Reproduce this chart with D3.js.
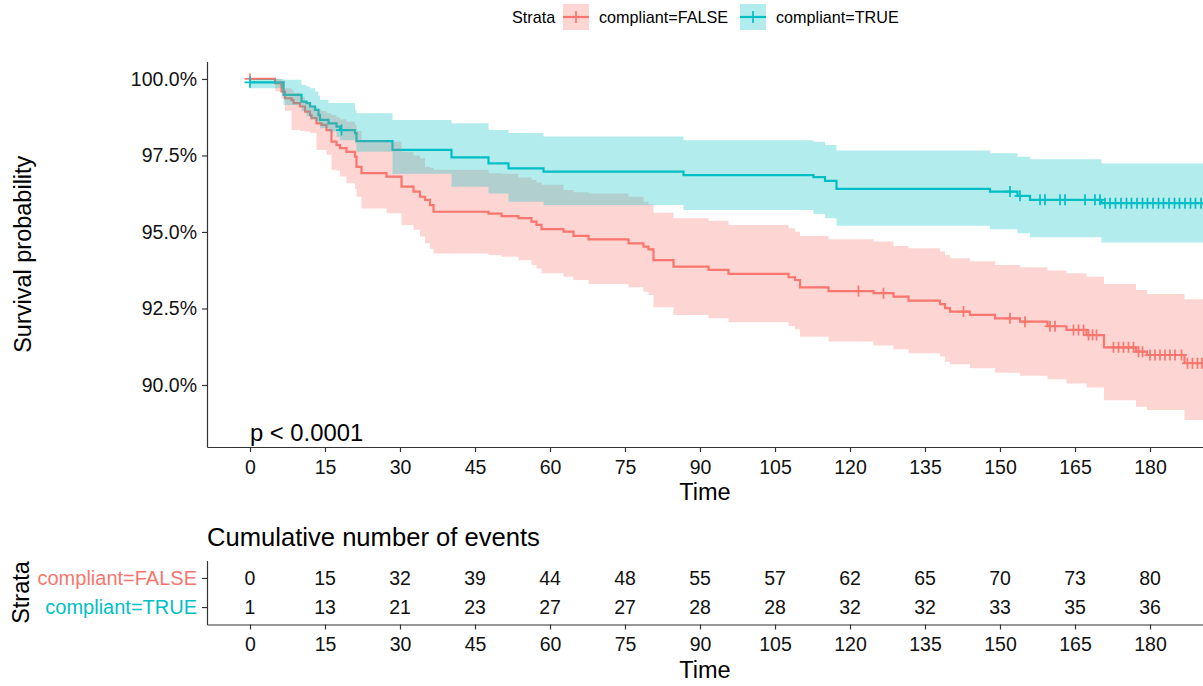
<!DOCTYPE html>
<html>
<head>
<meta charset="utf-8">
<script src="https://cdn.jsdelivr.net/npm/d3@7"></script>
<style>
  body { margin: 0; background: #fff; }
  svg text { font-family: 'Liberation Sans', Arial, sans-serif; }
</style>
</head>
<body>
<div id="chart"></div>
<script>
// ---- data (survival in %) ----
const strata = ['compliant=FALSE', 'compliant=TRUE'];
const strataColors = ['#F8766D', '#00BFC4'];

const falseTime = [0, 5, 6.3, 7, 8.3, 8.7, 10, 11, 12, 12.3, 13.3, 14.3, 15.3, 16.3, 17.3, 18, 19.3, 21, 21.3, 22.3,
  27.3, 30.3, 32.7, 34, 35, 36, 36.7, 47.7, 50.3, 53.7, 56.3, 57.3, 58.3, 62.7, 64.7, 67.7, 75.7, 78.7, 79.7, 80.7,
  84.7, 91.7, 95.7, 107.7, 109, 110, 115.7, 124.7, 128.7, 131.7, 138, 139, 140, 144, 149, 154, 159.5, 163.3, 167.3, 170.8,
  177.2, 179.4, 186.9];
const falseSurv = [100, 99.86, 99.59, 99.37, 99.31, 99.21, 99.10, 98.93, 98.82, 98.72, 98.55, 98.50, 98.33, 97.95, 97.84, 97.74, 97.62, 97.46, 97.13, 96.92,
  96.81, 96.48, 96.32, 96.15, 96.05, 95.88, 95.66, 95.60, 95.52, 95.45, 95.34, 95.23, 95.09, 95.01, 94.87, 94.76, 94.63, 94.52, 94.43, 94.08,
  93.87, 93.76, 93.63, 93.52, 93.43, 93.19, 93.07, 93.00, 92.89, 92.76, 92.64, 92.51, 92.40, 92.29, 92.18, 92.07, 91.92, 91.80, 91.63, 91.23,
  91.09, 90.98, 90.71];
const falseUpper = [100, 100, 99.95, 99.70, 99.64, 99.55, 99.40, 99.25, 99.21, 99.10, 99.00, 98.95, 98.88, 98.82, 98.75, 98.68, 98.60, 98.50, 98.30, 98.00,
  97.95, 97.62, 97.50, 97.41, 97.13, 97.10, 97.03, 96.92, 96.90, 96.78, 96.70, 96.62, 96.54, 96.37, 96.30, 96.26, 96.15, 95.99, 95.90, 95.63,
  95.45, 95.37, 95.23, 95.12, 95.01, 94.87, 94.76, 94.69, 94.54, 94.47, 94.36, 94.25, 94.14, 94.04, 93.92, 93.85, 93.74, 93.65, 93.54, 93.30,
  93.10, 92.97, 92.80];
const falseLower = [100, 99.60, 99.37, 98.95, 98.33, 98.33, 98.30, 98.28, 98.23, 98.23, 97.68, 97.68, 97.52, 97.03, 97.00, 96.81, 96.59, 96.40, 96.15, 95.77,
  95.61, 95.23, 95.07, 94.85, 94.63, 94.45, 94.30, 94.25, 94.19, 94.08, 93.92, 93.81, 93.65, 93.54, 93.43, 93.30, 93.19, 93.05, 92.94, 92.54,
  92.29, 92.18, 92.05, 91.93, 91.82, 91.58, 91.42, 91.29, 91.17, 91.04, 90.93, 90.76, 90.68, 90.55, 90.40, 90.30, 90.19, 90.05, 89.92, 89.50,
  89.29, 89.18, 88.86];
const falseCensor = [0, 121.7, 126.7, 142.7, 152, 155, 160, 161, 164.7, 165.7, 166.7, 167.7, 168.5, 169.3, 172.7, 173.7, 174.7, 175.7, 176.7,
  177.7, 178.5, 180, 181, 182, 183, 184, 185, 186.3, 187.5, 188.5, 189.5, 190.4];

const trueTime = [0, 6.7, 10.3, 11.3, 12, 13, 13.7, 14, 15.7, 17.3, 18, 21, 21.3, 28.5, 40.3, 47.7, 51.7, 58.7, 86.7, 112.7,
  115, 117.3, 148, 153.5, 156, 170.3];
const trueSurv = [99.89, 99.48, 99.26, 99.21, 99.10, 98.99, 98.82, 98.66, 98.55, 98.44, 98.33, 98.23, 97.97, 97.68, 97.44, 97.24, 97.08, 96.97, 96.86, 96.79,
  96.67, 96.41, 96.32, 96.18, 96.05, 95.94];
const trueUpper = [100, 99.97, 99.80, 99.75, 99.70, 99.59, 99.45, 99.32, 99.21, 99.21, 99.21, 99.00, 98.88, 98.66, 98.55, 98.33, 98.23, 98.12, 98.00, 97.95,
  97.84, 97.66, 97.57, 97.46, 97.38, 97.24];
const trueLower = [99.70, 99.15, 98.95, 98.77, 98.70, 98.62, 98.55, 98.40, 98.28, 98.10, 98.00, 97.90, 97.62, 96.90, 96.48, 96.26, 95.99, 95.88, 95.72, 95.59,
  95.45, 95.20, 95.09, 94.96, 94.83, 94.66];
const trueCensor = [0, 18.3, 152, 154, 158, 159, 162, 163, 167, 169, 170, 171, 172, 173.1, 174.2, 175.3, 176.3, 177.4, 178.5, 179.5,
  180.6, 181.7, 182.7, 183.8, 184.9, 185.9, 187, 188.1, 189.1, 190.2];

const riskTimes = [0, 15, 30, 45, 60, 75, 90, 105, 120, 135, 150, 165, 180];
const falseEvents = [0, 15, 32, 39, 44, 48, 55, 57, 62, 65, 70, 73, 80];
const trueEvents = [1, 13, 21, 23, 27, 27, 28, 28, 32, 32, 33, 35, 36];
const yTicks = [90, 92.5, 95, 97.5, 100];
const endTime = 191;

// ---- layout ----
const width = 1203;
const height = 686;
const panel = { left: 207, right: 1203, top: 61.5, bottom: 447 };
const table = { top: 560.5, bottom: 624.5 };
const axisColor = '#333';
const tickFont = 19.5;

const svg = d3
  .select('#chart')
  .append('svg')
  .attr('width', width)
  .attr('height', height);

const xScale = d3.scaleLinear().domain([-8.6, 190.6]).range([panel.left, panel.right]);
const yScale = d3.scaleLinear().domain([87.974, 100.57]).range([panel.bottom, panel.top]);

svg
  .append('clipPath')
  .attr('id', 'clip')
  .append('rect')
  .attr('x', panel.left)
  .attr('y', panel.top)
  .attr('width', panel.right - panel.left)
  .attr('height', panel.bottom - panel.top);

// build step series
const makeSeries = (time, surv, upper, lower) =>
  time.map((t, i) => ({ t: t, v: surv[i], hi: upper[i], lo: lower[i] }))
    .concat([{ t: endTime, v: surv[surv.length - 1], hi: upper[upper.length - 1], lo: lower[lower.length - 1] }]);

const series = [
  makeSeries(falseTime, falseSurv, falseUpper, falseLower),
  makeSeries(trueTime, trueSurv, trueUpper, trueLower)
];
const censors = [falseCensor, trueCensor];

const survAt = (s, t) => {
  let v = s[0].v;
  s.forEach(d => { if (d.t <= t) v = d.v; });
  return v;
};

const line = d3
  .line()
  .x(d => xScale(d.t))
  .y(d => yScale(d.v))
  .curve(d3.curveStepAfter);

const band = d3
  .area()
  .x(d => xScale(d.t))
  .y0(d => yScale(d.lo))
  .y1(d => yScale(d.hi))
  .curve(d3.curveStepAfter);

const plot = svg.append('g').attr('clip-path', 'url(#clip)');

// lines first, then ribbons on top (as ggplot layers them)
series.forEach((s, i) => {
  plot
    .append('path')
    .datum(s)
    .attr('fill', 'none')
    .attr('stroke', strataColors[i])
    .attr('stroke-width', 2.2)
    .attr('d', line);
});

series.forEach((s, i) => {
  plot
    .append('path')
    .datum(s)
    .attr('fill', strataColors[i])
    .attr('fill-opacity', 0.3)
    .attr('d', band);
});

// censor marks
const plus = (x, y, r) => `M${x - r},${y}h${2 * r}M${x},${y - r}v${2 * r}`;
censors.forEach((c, i) => {
  plot
    .selectAll(null)
    .data(c)
    .enter()
    .append('path')
    .attr('d', t => plus(xScale(t), yScale(survAt(series[i], t)), 5.5))
    .attr('stroke', strataColors[i])
    .attr('stroke-width', 1.7)
    .attr('fill', 'none');
});

// axes
const styleAxis = (g, size) => {
  g.select('.domain').attr('stroke', axisColor).attr('stroke-width', 1.2);
  g.selectAll('.tick line').attr('stroke', axisColor).attr('stroke-width', 1.2);
  g.selectAll('.tick text')
    .style('font-family', "'Liberation Sans', Arial, sans-serif")
    .style('font-size', size + 'px')
    .style('fill', '#111');
};

svg
  .append('g')
  .attr('transform', `translate(0, ${panel.bottom})`)
  .call(d3.axisBottom(xScale).tickValues(riskTimes).tickSize(5).tickSizeOuter(0).tickPadding(8))
  .call(g => styleAxis(g, tickFont));

svg
  .append('g')
  .attr('transform', `translate(${panel.left}, 0)`)
  .call(d3.axisLeft(yScale).tickValues(yTicks).tickSize(5).tickSizeOuter(0).tickPadding(5)
    .tickFormat(d => d.toFixed(1) + '%'))
  .call(g => styleAxis(g, tickFont));

svg
  .append('text')
  .attr('x', (panel.left + panel.right) / 2)
  .attr('y', 500)
  .attr('text-anchor', 'middle')
  .style('font-size', '23.5px')
  .text('Time');

svg
  .append('text')
  .attr('transform', `translate(31, ${(panel.top + panel.bottom) / 2}) rotate(-90)`)
  .attr('text-anchor', 'middle')
  .style('font-size', '23.5px')
  .text('Survival probability');

svg
  .append('text')
  .attr('x', xScale(0))
  .attr('y', 441)
  .style('font-size', '23.8px')
  .text('p < 0.0001');

// legend
const legend = svg.append('g');
legend
  .append('text')
  .attr('x', 512)
  .attr('y', 23)
  .style('font-size', '16.2px')
  .text('Strata');

const legendX = [563, 740];
strata.forEach((name, i) => {
  const x0 = legendX[i];
  legend
    .append('rect')
    .attr('x', x0)
    .attr('y', 4)
    .attr('width', 26)
    .attr('height', 26)
    .attr('fill', strataColors[i])
    .attr('fill-opacity', 0.3);
  legend
    .append('path')
    .attr('d', `M${x0},17h26`)
    .attr('stroke', strataColors[i])
    .attr('stroke-width', 2.2);
  legend
    .append('path')
    .attr('d', plus(x0 + 13, 17, 6))
    .attr('stroke', strataColors[i])
    .attr('stroke-width', 1.7);
  legend
    .append('text')
    .attr('x', x0 + 36)
    .attr('y', 23)
    .style('font-size', '16.2px')
    .text(name);
});

// ---- risk table: cumulative number of events ----
const yTable = d3
  .scalePoint()
  .domain(strata)
  .range([table.top, table.bottom])
  .padding(0.6);

svg
  .append('text')
  .attr('x', panel.left)
  .attr('y', 546)
  .style('font-size', '25.6px')
  .text('Cumulative number of events');

svg
  .append('g')
  .attr('transform', `translate(0, ${table.bottom})`)
  .call(d3.axisBottom(xScale).tickValues(riskTimes).tickSize(5).tickSizeOuter(0).tickPadding(8))
  .call(g => styleAxis(g, tickFont));

svg
  .append('g')
  .attr('transform', `translate(${panel.left}, 0)`)
  .call(d3.axisLeft(yTable).tickSize(5).tickSizeOuter(0).tickPadding(5))
  .call(g => styleAxis(g, 20))
  .call(g => g.selectAll('.tick text').style('fill', (d, i) => strataColors[i]));

const tableRows = [falseEvents, trueEvents];
tableRows.forEach((row, i) => {
  svg
    .selectAll(null)
    .data(row)
    .enter()
    .append('text')
    .attr('x', (d, j) => xScale(riskTimes[j]))
    .attr('y', yTable(strata[i]))
    .attr('dy', '0.35em')
    .attr('text-anchor', 'middle')
    .style('font-size', tickFont + 'px')
    .style('fill', '#111')
    .text(d => d);
});

svg
  .append('text')
  .attr('x', (panel.left + panel.right) / 2)
  .attr('y', 678)
  .attr('text-anchor', 'middle')
  .style('font-size', '23.5px')
  .text('Time');

svg
  .append('text')
  .attr('transform', `translate(29, ${(table.top + table.bottom) / 2}) rotate(-90)`)
  .attr('text-anchor', 'middle')
  .style('font-size', '23.5px')
  .text('Strata');
</script>
</body>
</html>
